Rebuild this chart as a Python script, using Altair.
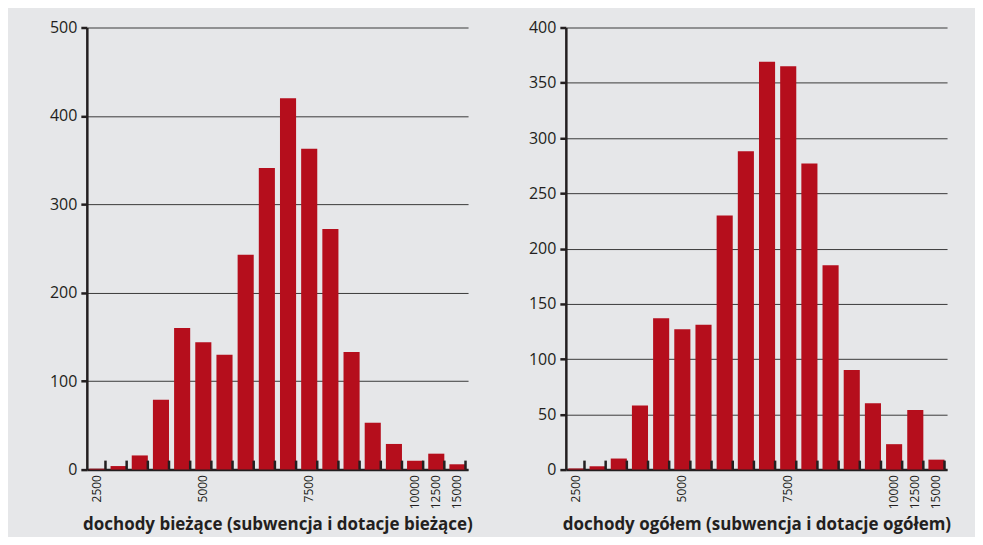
import altair as alt
import pandas as pd

categories = ["2500", "3000", "3500", "4000", "4500", "5000", "5500", "6000", "6500",
              "7000", "7500", "8000", "8500", "9000", "9500", "10000", "12500", "15000"]
shown_labels = ["2500", "5000", "7500", "10000", "12500", "15000"]

biezace = [1, 4, 16, 79, 160, 144, 130, 243, 341, 420, 363, 272, 133, 53, 29, 10, 18, 6]
ogolem = [1, 3, 10, 58, 137, 127, 131, 230, 288, 369, 365, 277, 185, 90, 60, 23, 54, 9]

title_left = "dochody bieżące (subwencja i dotacje bieżące)"
title_right = "dochody ogółem (subwencja i dotacje ogółem)"

RED = "#b50e1c"
INK = "#231f20"
FONT = "Open Sans"
W, H = 382, 443

label_expr = "indexof(" + str(shown_labels) + ", datum.label) >= 0 ? datum.label : ''"


def panel(values, ymax, ystep, xtitle):
    df = pd.DataFrame({"cat": categories, "n": values})
    xenc = alt.X(
        "cat:N", sort=categories,
        scale=alt.Scale(paddingInner=0.24, paddingOuter=0.12),
        axis=alt.Axis(
            title=xtitle, labelAngle=-90, labelAlign="right", labelBaseline="middle",
            labelExpr=label_expr, labelFontSize=12, labelColor=INK, labelFont=FONT,
            labelPadding=5, ticks=False, domainColor=INK, domainWidth=2.5,
            titleFont=FONT, titleFontSize=17, titleFontWeight="bold", titleColor=INK,
            titlePadding=8,
        ),
    )
    bars = alt.Chart(df).mark_bar(color=RED).encode(
        x=xenc,
        y=alt.Y(
            "n:Q", scale=alt.Scale(domain=[0, ymax], nice=False),
            axis=alt.Axis(
                title=None, values=list(range(0, ymax + 1, ystep)),
                labelFontSize=16, labelColor=INK, labelFont=FONT, labelPadding=4,
                tickSize=6, tickWidth=2.5, tickColor=INK,
                domainColor=INK, domainWidth=2.5,
                grid=True, gridColor="#3a3a3a", gridWidth=1,
                minExtent=50, maxExtent=50,
            ),
        ),
    )
    ticks = alt.Chart(df).mark_rule(color=INK, strokeWidth=2.5).encode(
        x=alt.X("cat:N", sort=categories, bandPosition=1),
        y=alt.value(H),
        y2=alt.value(H - 9),
    )
    return alt.layer(bars, ticks).properties(width=W, height=H)


left = panel(biezace, 500, 100, title_left)
right = panel(ogolem, 400, 50, title_right)

chart = alt.hconcat(left, right, spacing=43).properties(
    background="#e6e7e9",
    padding={"left": 29, "top": 11, "right": 24, "bottom": 3},
).configure_view(stroke=None)

chart.save("out.html", embed_options={"renderer": "svg", "actions": False})
